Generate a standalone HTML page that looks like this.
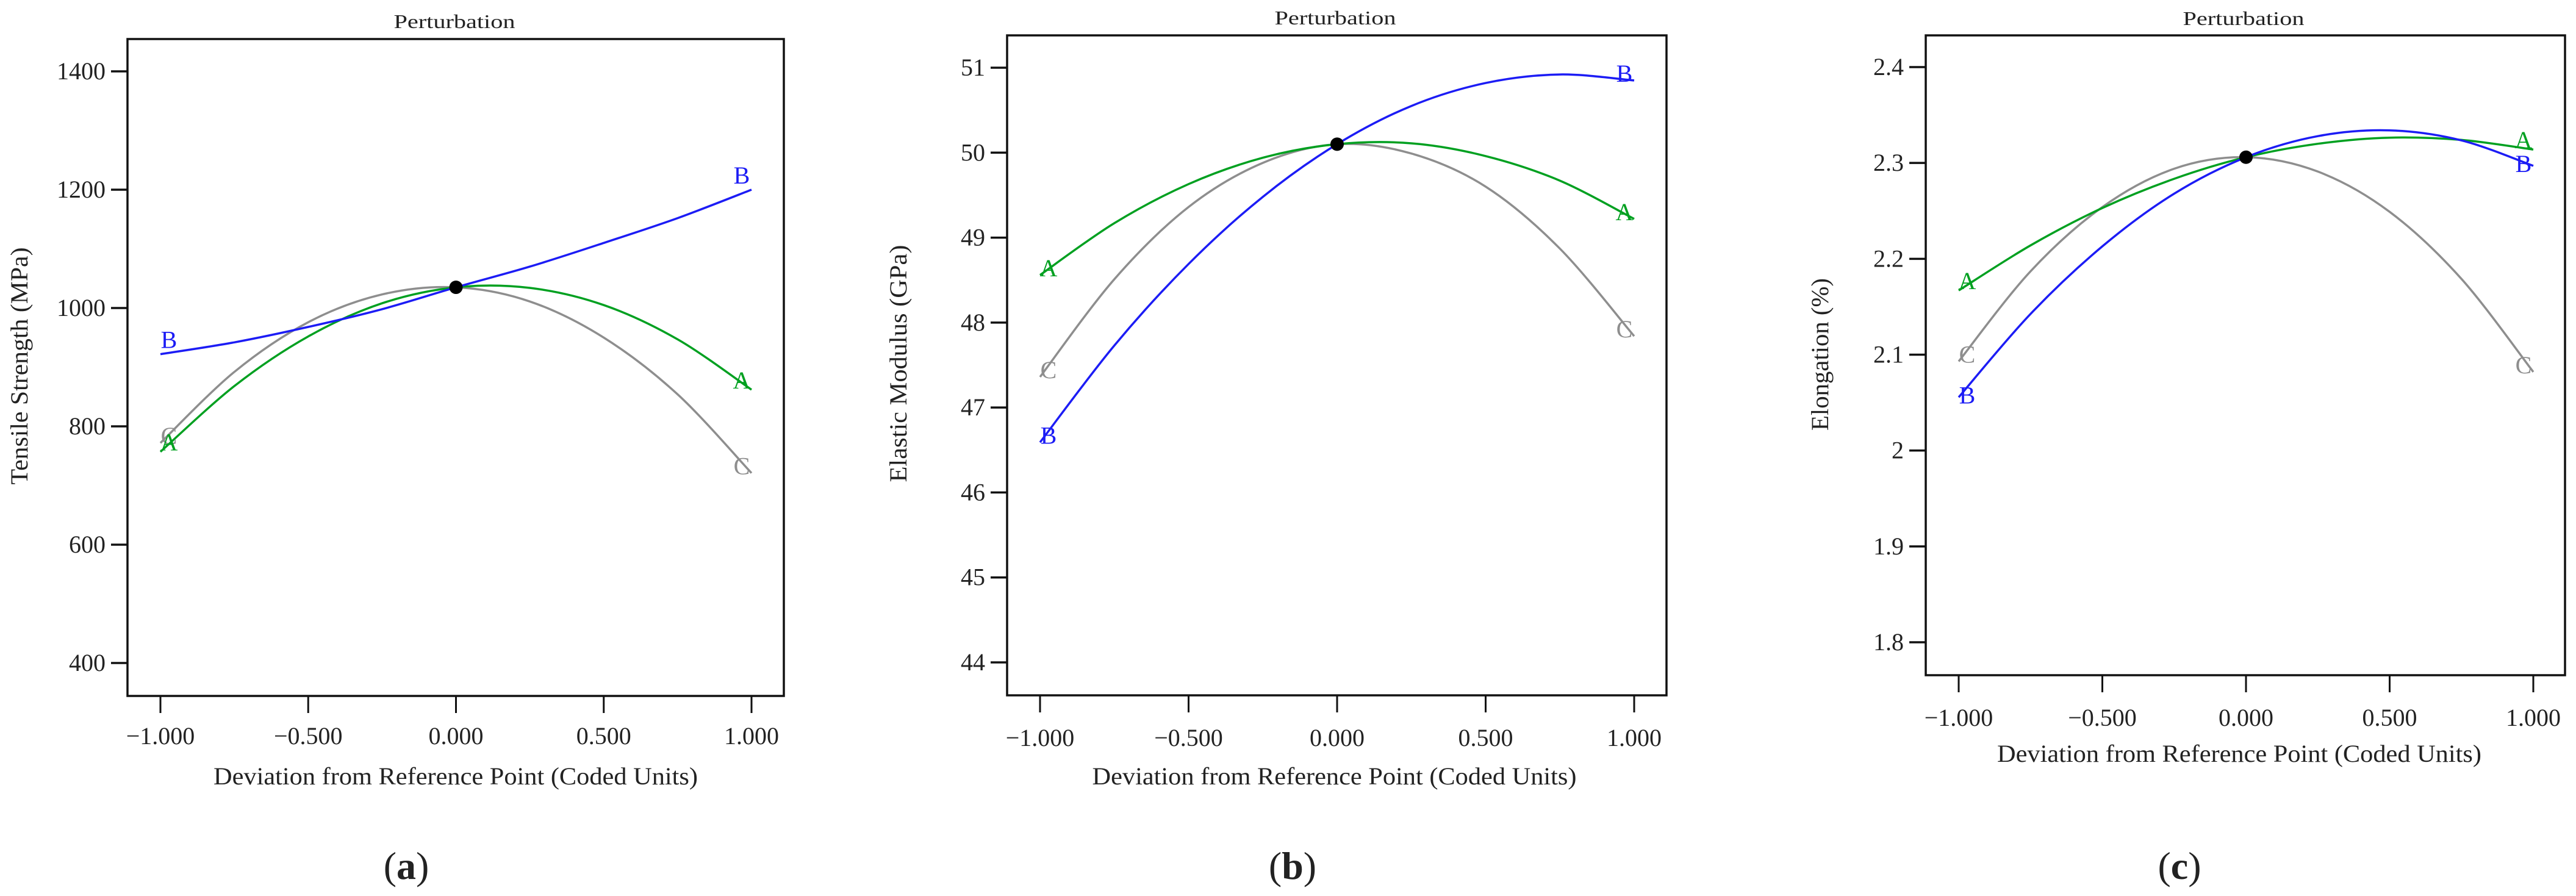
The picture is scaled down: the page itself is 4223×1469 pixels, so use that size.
<!DOCTYPE html>
<html><head><meta charset="utf-8">
<style>
html,body{margin:0;padding:0;background:#fff;}
svg{display:block;}
text{font-family:"Liberation Serif",serif;fill:#222;}
</style></head>
<body>
<svg id="fig" width="4223" height="1469" viewBox="0 0 4223 1469" xmlns="http://www.w3.org/2000/svg"></svg>
<script>
// Shared x samples (coded units)
const xSamples = [-1, -0.75, -0.5, -0.25, 0, 0.25, 0.5, 0.75, 1];
const xTickValues = [-1, -0.5, 0, 0.5, 1];
const xTickLabels = ["\u22121.000", "\u22120.500", "0.000", "0.500", "1.000"];

// Panel (a): Tensile Strength
const aTickValues = [400, 600, 800, 1000, 1200, 1400];
const aTickLabels = ["400", "600", "800", "1000", "1200", "1400"];
const aSeriesA = [757, 868, 952, 1008, 1035, 1034, 1005, 947, 862];
const aSeriesB = [922, 942, 968, 998, 1035, 1070, 1110, 1152, 1200];
const aSeriesC = [772, 892, 976, 1023, 1035, 1011, 950, 854, 721];
const aRefValue = 1035;

// Panel (b): Elastic Modulus
const bTickValues = [44, 45, 46, 47, 48, 49, 50, 51];
const bTickLabels = ["44", "45", "46", "47", "48", "49", "50", "51"];
const bSeriesA = [48.56, 49.17, 49.63, 49.94, 50.1, 50.11, 49.96, 49.67, 49.22];
const bSeriesB = [46.59, 47.73, 48.69, 49.48, 50.1, 50.55, 50.82, 50.92, 50.85];
const bSeriesC = [47.36, 48.51, 49.36, 49.88, 50.1, 49.99, 49.6, 48.87, 47.84];
const bRefValue = 50.1;

// Panel (c): Elongation
const cTickValues = [1.8, 1.9, 2.0, 2.1, 2.2, 2.3, 2.4];
const cTickLabels = ["1.8", "1.9", "2", "2.1", "2.2", "2.3", "2.4"];
const cSeriesA = [2.167, 2.214, 2.253, 2.2835, 2.306, 2.320, 2.3264, 2.324, 2.314];
const cSeriesB = [2.0556, 2.1425, 2.213, 2.268, 2.306, 2.328, 2.334, 2.3235, 2.297];
const cSeriesC = [2.093, 2.187, 2.254, 2.294, 2.306, 2.291, 2.249, 2.179, 2.082];
const cRefValue = 2.306;

const NS = "http://www.w3.org/2000/svg";
const svg = document.getElementById("fig");
const COLORS = {A: "#00a020", B: "#1c1cf5", C: "#8e8e8e"};

function mk(tag, attrs, parent) {
  const e = document.createElementNS(NS, tag);
  for (const k in attrs) e.setAttribute(k, attrs[k]);
  (parent || svg).appendChild(e);
  return e;
}

function smoothPath(pts) {
  let d = "M" + pts[0][0].toFixed(1) + "," + pts[0][1].toFixed(1);
  for (let i = 0; i < pts.length - 1; i++) {
    const p0 = pts[Math.max(0, i - 1)], p1 = pts[i], p2 = pts[i + 1], p3 = pts[Math.min(pts.length - 1, i + 2)];
    const c1x = p1[0] + (p2[0] - p0[0]) / 6, c1y = p1[1] + (p2[1] - p0[1]) / 6;
    const c2x = p2[0] - (p3[0] - p1[0]) / 6, c2y = p2[1] - (p3[1] - p1[1]) / 6;
    d += " C" + c1x.toFixed(1) + "," + c1y.toFixed(1) + " " + c2x.toFixed(1) + "," + c2y.toFixed(1) + " " + p2[0].toFixed(1) + "," + p2[1].toFixed(1);
  }
  return d;
}

function panel(cfg) {
  const g = mk("g", {});
  
  
  const xs = v => cfg.x0 + (v - (-1)) / 2 * (cfg.x1 - cfg.x0);
  const ys = v => cfg.yTop + (cfg.vTop - v) / (cfg.vTop - cfg.vBot) * (cfg.yBot - cfg.yTop);

  const t = mk("text", {x: cfg.titleX, y: cfg.titleY, "font-size": 32, "text-anchor": "middle", textLength: 199, lengthAdjust: "spacingAndGlyphs"}, g);
  t.textContent = "Perturbation";
  
  

  const box = mk("rect", {x: cfg.L, y: cfg.T, width: cfg.R - cfg.L, height: cfg.B - cfg.T, fill: "none", stroke: "#111", "stroke-width": 3.5}, g);
  
  

  cfg.yTicks.forEach((v, i) => {
    const y = ys(v);
    const tk = mk("line", {x1: cfg.L - 27, x2: cfg.L, y1: y, y2: y, stroke: "#111", "stroke-width": 3.5}, g);
    
    
    const lb = mk("text", {x: cfg.L - 36, y: y + 13, "font-size": 40, "text-anchor": "end"}, g);
    lb.textContent = cfg.yLabels[i];
    
    
  });
  xTickValues.forEach((v, i) => {
    const x = xs(v);
    const tk = mk("line", {x1: x, x2: x, y1: cfg.B, y2: cfg.B + 28, stroke: "#111", "stroke-width": 3}, g);
    
    
    const lb = mk("text", {x: x, y: cfg.xLabY + 14, "font-size": 40, "text-anchor": "middle"}, g);
    lb.textContent = xTickLabels[i];
    
    
  });
  const xt = mk("text", {x: (cfg.L + cfg.R) / 2 + cfg.xTitleDx, y: cfg.xTitleY + 14, "font-size": 40, "text-anchor": "middle", textLength: 794, lengthAdjust: "spacingAndGlyphs"}, g);
  xt.textContent = "Deviation from Reference Point (Coded Units)";
  
  

  const yt = mk("text", {x: 0, y: 0, "font-size": 40, "text-anchor": "middle", textLength: cfg.yTitleLen, lengthAdjust: "spacingAndGlyphs", transform: "translate(" + (cfg.yTitleX + 13) + "," + cfg.yTitleY + ") rotate(-90)"}, g);
  yt.textContent = cfg.yTitle;
  
  

  ["C", "A", "B"].forEach(k => {
    const vals = cfg.series[k];
    const pts = xSamples.map((xv, i) => [xs(xv), ys(vals[i])]);
    const p = mk("path", {d: smoothPath(pts), fill: "none", stroke: COLORS[k], "stroke-width": 3.5}, g);
    
    
    [0, vals.length - 1].forEach(idx => {
      const lx = xs(xSamples[idx]) + (idx === 0 ? 14 : -16);
      const ly = ys(vals[idx]) + (cfg.labelDy[k] || 0);
      const lb = mk("text", {x: lx, y: ly, "font-size": 40, "text-anchor": "middle", fill: COLORS[k], style: "fill:" + COLORS[k]}, g);
      lb.textContent = k;
      
      
    });
  });
  const dot = mk("circle", {cx: xs(0), cy: ys(cfg.ref), r: 11, fill: "#000"}, g);
  
  

  const pl = mk("text", {x: cfg.capX, y: cfg.capY + 22, "font-size": 64, "text-anchor": "middle"}, g);
  pl.innerHTML = '(<tspan font-weight="bold">' + cfg.cap + '</tspan>)';
  
  
}

panel({name: "panel-a-tensile", L: 209, R: 1285, T: 64, B: 1141, x0: 263, x1: 1232,
  vTop: 1400, vBot: 400, yTop: 117, yBot: 1087, yTicks: aTickValues, yLabels: aTickLabels,
  titleX: 745, titleY: 46, xLabY: 1206, xTitleY: 1272, xTitleDx: 0,
  yTitle: "Tensile Strength (MPa)", yTitleX: 32, yTitleY: 600, yTitleLen: 389,
  series: {A: aSeriesA, B: aSeriesB, C: aSeriesC}, ref: aRefValue,
  labelDy: {A: -2, B: -10, C: 2}, cap: "a", capX: 666, capY: 1419});

panel({name: "panel-b-modulus", L: 1651, R: 2732, T: 58, B: 1140, x0: 1705, x1: 2679,
  vTop: 51, vBot: 44, yTop: 111, yBot: 1086, yTicks: bTickValues, yLabels: bTickLabels,
  titleX: 2189, titleY: 40, xLabY: 1209, xTitleY: 1272, xTitleDx: -4,
  yTitle: "Elastic Modulus (GPa)", yTitleX: 1473, yTitleY: 596, yTitleLen: 389,
  series: {A: bSeriesA, B: bSeriesB, C: bSeriesC}, ref: bRefValue,
  labelDy: {A: 2, B: 2, C: 2}, cap: "b", capX: 2119, capY: 1419});

panel({name: "panel-c-elongation", L: 3157, R: 4205, T: 58, B: 1107, x0: 3211, x1: 4153,
  vTop: 2.4, vBot: 1.8, yTop: 110, yBot: 1053, yTicks: cTickValues, yLabels: cTickLabels,
  titleX: 3678, titleY: 41, xLabY: 1176, xTitleY: 1235, xTitleDx: -10,
  yTitle: "Elongation (%)", yTitleX: 2984, yTitleY: 581, yTitleLen: 250,
  series: {A: cSeriesA, B: cSeriesB, C: cSeriesC}, ref: cRefValue,
  labelDy: {A: -2, B: 10, C: 2}, cap: "c", capX: 3573, capY: 1419});
</script>
</body></html>
